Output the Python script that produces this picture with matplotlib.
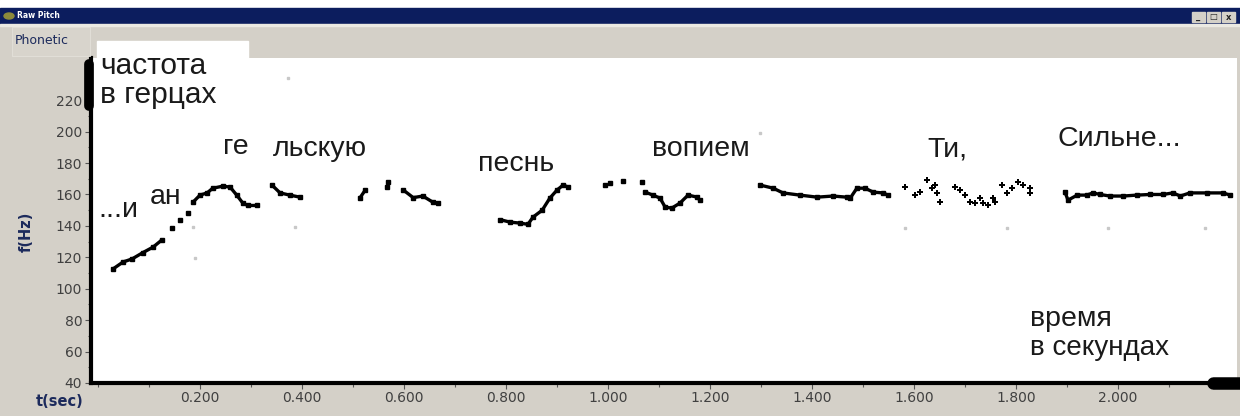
import numpy as np
import matplotlib
matplotlib.use("Agg")
import matplotlib.pyplot as plt
from matplotlib.patches import Rectangle, Ellipse
from matplotlib.lines import Line2D
from matplotlib.ticker import MultipleLocator

# ---- pitch trace (t in sec, f in Hz) ----
seg1a_t = [0.029, 0.049, 0.067, 0.088, 0.108, 0.125]
seg1a_f = [112.5, 117, 119, 123, 126.5, 131]
seg1_dots_t = [0.145, 0.161, 0.176]
seg1_dots_f = [138.6, 143.7, 148]
seg1b_t = [0.186, 0.200, 0.214, 0.225, 0.245, 0.259, 0.272, 0.284, 0.294, 0.312]
seg1b_f = [155, 159.6, 161, 164, 165.3, 164.7, 159.6, 154.5, 153, 153]

seg2_t = [0.341, 0.357, 0.376, 0.396]
seg2_f = [166, 161, 159.6, 158.3]

seg3a_t = [0.514, 0.524]
seg3a_f = [158, 162.8]
seg3_dots_t = [0.567, 0.569]
seg3_dots_f = [164.7, 168]
seg3b_t = [0.598, 0.618, 0.637, 0.657, 0.667]
seg3b_f = [163, 158, 159, 155, 154.5]

seg4_t = [0.788, 0.808, 0.827, 0.843, 0.853, 0.871, 0.886, 0.900, 0.912, 0.922]
seg4_f = [144, 142.4, 141.8, 141, 145.6, 150, 157.7, 162.8, 166, 164.7]

seg5_dots_t = [0.994, 1.004, 1.029, 1.067]
seg5_dots_f = [166, 167, 168.5, 168]
seg5_t = [1.073, 1.088, 1.102, 1.112, 1.125, 1.141, 1.157, 1.175, 1.180]
seg5_f = [161.5, 159.6, 157.7, 152, 151.3, 154.5, 159.6, 158.3, 156.4]

seg6_t = [1.298, 1.324, 1.343, 1.376, 1.410, 1.441, 1.468, 1.475, 1.488, 1.504, 1.520, 1.539, 1.549]
seg6_f = [166, 164, 161, 159.6, 158.3, 159, 158.3, 157.7, 164, 164, 161.5, 161, 159.6]

seg7_t = [1.582, 1.602, 1.612, 1.625, 1.635, 1.641, 1.645, 1.651, 1.680, 1.690, 1.700, 1.710,
          1.720, 1.729, 1.735, 1.745, 1.755, 1.759, 1.773, 1.782, 1.792, 1.804, 1.814, 1.827, 1.827]
seg7_f = [164.7, 159.6, 161.5, 169, 164, 166, 161, 155, 164.7, 162.8, 159.6, 155,
          154.5, 157.7, 154.5, 153, 157.7, 155, 166, 161, 164, 168, 166, 164, 161]

seg8_t = [1.896, 1.902, 1.920, 1.939, 1.951, 1.965, 1.984, 2.010, 2.037, 2.063, 2.088, 2.108,
          2.122, 2.141, 2.175, 2.206, 2.220]
seg8_f = [161.5, 156.4, 159.6, 159.6, 161, 160, 159, 159, 159.6, 160, 160, 161,
          159, 161, 161, 161, 159.6]

faint_t = [0.186, 0.190, 0.373, 0.386, 1.298, 1.582, 1.782, 1.980, 2.170]
faint_f = [139, 119.5, 234, 139, 199, 138.6, 138.6, 138.6, 138.6]

# word labels: left end of the baseline
words = ["...и", "ан", "ге", "льскую", "песнь", "вопием", "Ти,", "Сильне..."]
words_t = [0.000, 0.102, 0.245, 0.343, 0.745, 1.086, 1.627, 1.881]
words_f = [145.5, 154, 185.5, 184.5, 175, 184.5, 184, 191]

xticks = [0.2, 0.4, 0.6, 0.8, 1.0, 1.2, 1.4, 1.6, 1.8, 2.0]
yticks = [40, 60, 80, 100, 120, 140, 160, 180, 200, 220]

W, H = 1240, 416


def fx(x):
    return x / W


def fy(y):
    return 1 - y / H


fig = plt.figure(figsize=(12.4, 4.16), dpi=100, facecolor="#d4d0c8")

# window chrome
fig.patches.append(Rectangle((0, fy(8)), 1, 8 / H, transform=fig.transFigure, color="white", zorder=0))
fig.patches.append(Rectangle((0, fy(24)), 1, 16 / H, transform=fig.transFigure, color="#0c1d5e", zorder=0))
fig.patches.append(Rectangle((0, fy(26)), 1, 2 / H, transform=fig.transFigure, color="#ebe9e2", zorder=0))
fig.patches.append(Ellipse((fx(9), fy(16)), 10 / W, 6 / H, transform=fig.transFigure, color="#8c8a3c"))
fig.text(fx(17), fy(16), "Raw Pitch", color="white", fontsize=5.5, va="center", fontweight="bold")
for bx, g in zip([1192, 1207, 1222], ["_", "□", "x"]):
    fig.patches.append(Rectangle((fx(bx), fy(22)), 13 / W, 10 / H, transform=fig.transFigure,
                                 color="#d4d0c8", zorder=1))
    fig.text(fx(bx + 6.5), fy(17), g, fontsize=6, ha="center", va="center", fontweight="bold", color="#222")
fig.patches.append(Rectangle((fx(12), fy(56)), 78 / W, 29 / H, transform=fig.transFigure,
                             facecolor="#d8d4cc", edgecolor="#e4e1da", lw=0.6, zorder=0))
fig.text(fx(15), fy(41), "Phonetic", fontsize=9, va="center", color="#1c2a5c")

# plot area
ax = fig.add_axes([90.5 / W, (H - 383) / H, (1237 - 90.5) / W, (383 - 58) / H])
ax.set_facecolor("white")
ax.set_xlim((90.5 - 98) / 510, (1237 - 98) / 510)
ax.set_ylim(40, 40 + 325 / 1.571)

for s in ["top", "right"]:
    ax.spines[s].set_visible(False)
for s in ["left", "bottom"]:
    ax.spines[s].set_linewidth(3)
    ax.spines[s].set_color("black")

ax.set_xticks(xticks)
ax.set_xticklabels(["%.3f" % v for v in xticks])
ax.set_yticks(yticks)
ax.xaxis.set_minor_locator(MultipleLocator(0.1))
ax.yaxis.set_minor_locator(MultipleLocator(10))
ax.tick_params(which="both", direction="out", color="#555", width=0.8, labelsize=10,
               labelcolor="#404040")
ax.tick_params(which="major", length=4, pad=2)
ax.tick_params(which="minor", length=3)
ax.tick_params(axis="y", which="minor", length=2.5)

line_kw = dict(color="black", lw=2.4, marker="s", ms=2.2, solid_capstyle="round")
dot_kw = dict(color="black", ls="none", marker="s", ms=2.6)
for t, f in [(seg1a_t, seg1a_f), (seg1b_t, seg1b_f), (seg2_t, seg2_f), (seg3a_t, seg3a_f),
             (seg3b_t, seg3b_f), (seg4_t, seg4_f), (seg5_t, seg5_f), (seg6_t, seg6_f),
             (seg8_t, seg8_f)]:
    ax.plot(t, f, **line_kw)
for t, f in [(seg1_dots_t, seg1_dots_f), (seg3_dots_t, seg3_dots_f), (seg5_dots_t, seg5_dots_f)]:
    ax.plot(t, f, **dot_kw)
ax.plot(seg7_t, seg7_f, color="black", ls="none", marker="P", ms=4, mew=0)
ax.plot(faint_t, faint_f, color="#c8c8c8", ls="none", marker="s", ms=1.5)

for w, t, f in zip(words, words_t, words_f):
    ax.text(t, f, w, fontsize=20.5, family="Liberation Sans", color="#1a1a1a", va="baseline")

# white box behind the y caption, sticking out above the plot
fig.patches.append(Rectangle((fx(97), fy(58)), 151 / W, 17 / H, transform=fig.transFigure,
                             color="white", zorder=0.5))
fig.text(fx(100), fy(74), "частота", fontsize=21.5, family="Liberation Sans", color="#1a1a1a", va="baseline")
fig.text(fx(100), fy(103), "в герцах", fontsize=21.5, family="Liberation Sans", color="#1a1a1a", va="baseline")
fig.text(fx(1030), fy(326), "время", fontsize=20.5, family="Liberation Sans", color="#1a1a1a", va="baseline")
fig.text(fx(1030), fy(355), "в секундах", fontsize=20, family="Liberation Sans", color="#1a1a1a", va="baseline")

fig.text(fx(60), fy(402), "t(sec)", fontsize=10.5, fontweight="bold", color="#1c2a5c", ha="center", va="center")
fig.text(fx(26), fy(232), "f(Hz)", fontsize=10.5, fontweight="bold", color="#1c2a5c", ha="center",
         va="center", rotation=90)

# slider thumbs on the axes
fig.add_artist(Line2D([fx(89), fx(89)], [fy(64), fy(106)], lw=7, color="black", solid_capstyle="round"))
fig.add_artist(Line2D([fx(1213), fx(1245)], [fy(383), fy(383)], lw=9, color="black", solid_capstyle="round"))

fig.savefig("out.png", dpi=100, facecolor=fig.get_facecolor())
